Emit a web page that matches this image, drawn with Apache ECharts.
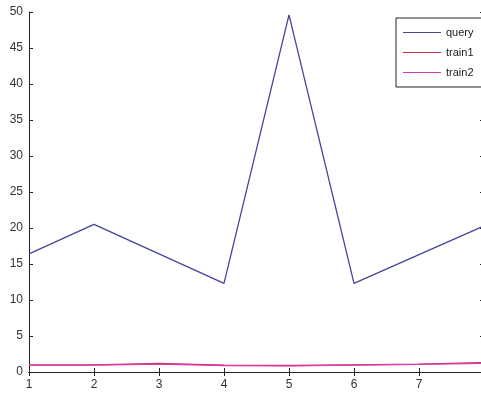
<!DOCTYPE html>
<html>
<head>
<meta charset="utf-8">
<script src="https://cdn.jsdelivr.net/npm/echarts@6/dist/echarts.min.js"></script>
<style>html,body{margin:0;padding:0;background:#fff}#c{width:481px;height:394px}</style>
</head>
<body>
<div id="c"></div>
<script>
const xValues = [1, 2, 3, 4, 5, 6, 7, 8];
const query = [16.4, 20.5, 16.4, 12.3, 49.6, 12.3, 16.3, 20.3];
const train1 = [1.0, 1.0, 1.2, 0.95, 0.9, 1.0, 1.1, 1.3];
const train2 = [0.95, 0.95, 1.1, 0.9, 0.85, 0.95, 1.05, 1.2];
const yTicks = [0, 5, 10, 15, 20, 25, 30, 35, 40, 45, 50];

const pairs = arr => xValues.map((x, i) => [x, arr[i]]);
const chart = echarts.init(document.getElementById('c'));
const axisLine = { show: true, lineStyle: { color: '#222', width: 1 } };
const tickIn = { show: true, inside: true, length: 4, lineStyle: { color: '#222' } };
const lab = { color: '#333', fontFamily: 'Liberation Sans, Arial, sans-serif', fontSize: 12 };
chart.setOption({
  animation: false,
  backgroundColor: '#fff',
  grid: { left: 29, top: 12, right: -3, bottom: 22, containLabel: false, outerBoundsMode: 'none' },
  xAxis: [
    { type: 'value', min: 1, max: 8, interval: 1, position: 'bottom',
      axisLine, axisTick: tickIn, splitLine: { show: false },
      axisLabel: Object.assign({ margin: 7 }, lab) },
    { type: 'value', min: 1, max: 8, interval: 1, position: 'top',
      axisLine, axisTick: tickIn, splitLine: { show: false }, axisLabel: { show: false } }
  ],
  yAxis: [
    { type: 'value', min: 0, max: 50, interval: 5, position: 'left',
      axisLine, axisTick: tickIn, splitLine: { show: false },
      axisLabel: Object.assign({ margin: 6, formatter: v => yTicks.includes(v) ? String(v) : '' }, lab) },
    { type: 'value', min: 0, max: 50, interval: 5, position: 'right',
      axisLine, axisTick: tickIn, splitLine: { show: false }, axisLabel: { show: false } }
  ],
  legend: {
    orient: 'vertical', left: 396, top: 18,
    backgroundColor: '#fff', borderColor: '#222', borderWidth: 1,
    padding: [9, 8, 9, 7], itemGap: 9, itemWidth: 38, itemHeight: 12,
    icon: 'path://M0,5.4L38,5.4L38,6.6L0,6.6Z',
    textStyle: { color: '#222', fontFamily: 'Liberation Sans, Arial, sans-serif', fontSize: 11 },
    data: ['query', 'train1', 'train2']
  },
  series: [
    { name: 'query', type: 'line', data: pairs(query), showSymbol: false, symbol: 'none',
      lineStyle: { color: '#45459a', width: 1.3 }, itemStyle: { color: '#45459a' } },
    { name: 'train1', type: 'line', data: pairs(train1), showSymbol: false, symbol: 'none',
      lineStyle: { color: '#c8304a', width: 1.3 }, itemStyle: { color: '#c8304a' } },
    { name: 'train2', type: 'line', data: pairs(train2), showSymbol: false, symbol: 'none',
      lineStyle: { color: '#d83cb0', width: 1.3 }, itemStyle: { color: '#d83cb0' } }
  ]
});
</script>
</body>
</html>
